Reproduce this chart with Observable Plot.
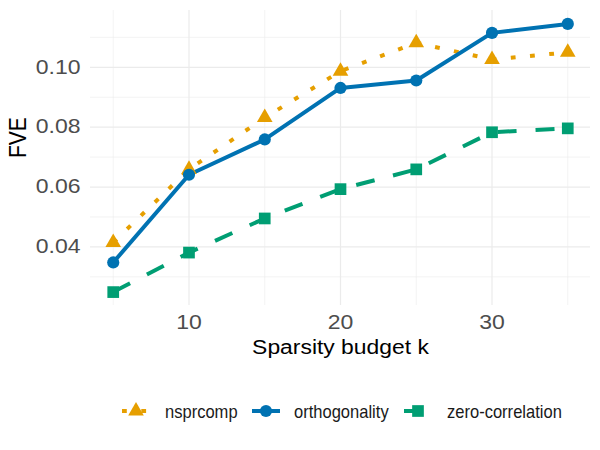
<!DOCTYPE html>
<html>
<head>
<meta charset="utf-8">
<script src="https://cdn.jsdelivr.net/npm/d3@7"></script>
<script src="https://cdn.jsdelivr.net/npm/@observablehq/plot@0.6"></script>
<style>
  html, body { margin: 0; padding: 0; background: white; }
  body { width: 600px; height: 450px; position: relative; overflow: hidden; font-family: "Liberation Sans", Arial, sans-serif; }
  #legend { position: absolute; top: 0; left: 0; width: 600px; height: 450px; pointer-events: none; }
  .key { position: absolute; display: block; }
  .lab { position: absolute; font-size: 19px; line-height: 20px; color: #1a1a1a; white-space: nowrap; transform: scaleX(0.87); transform-origin: left center; }
</style>
</head>
<body>
<div id="chart"></div>
<div id="legend"></div>
<script>
const ks = [5, 10, 15, 20, 25, 30, 35];
const nsprcomp = [0.0415, 0.0659, 0.0832, 0.0987, 0.1082, 0.1026, 0.1050];
const orthogonality = [0.0348, 0.0641, 0.0759, 0.0931, 0.0956, 0.1115, 0.1145];
const zeroCorrelation = [0.0249, 0.0381, 0.0495, 0.0593, 0.0659, 0.0783, 0.0796];

const methods = ["nsprcomp", "orthogonality", "zero-correlation"];
const colors = ["#E69F00", "#0072B2", "#009E73"];
const symbols = ["triangle", "circle", "square"];
const dashes = ["4.8,14.5", null, "19,19"];
const radii = [5.8, 6.1, 6.6];

const xMajor = [10, 20, 30];
const xMinor = [5, 15, 25, 35];
const yMajor = [0.04, 0.06, 0.08, 0.10];
const yMinor = [0.03, 0.05, 0.07, 0.09, 0.11];

const xTitle = "Sparsity budget k";
const yTitle = "FVE";

const seriesValues = [nsprcomp, orthogonality, zeroCorrelation];
const rows = [];
methods.forEach((m, i) => ks.forEach((k, j) => rows.push({k, method: m, fve: seriesValues[i][j]})));

const allVals = seriesValues.flat();
const lo = d3.min(allVals), hi = d3.max(allVals);
const pad = (hi - lo) * 0.05;
const xPad = (d3.max(ks) - d3.min(ks)) * 0.05;

const font = '"Liberation Sans", Arial, sans-serif';
const grid = "#EBEBEB";

const marks = [
  Plot.ruleX(xMinor, {stroke: grid, strokeWidth: 0.6}),
  Plot.ruleY(yMinor, {stroke: grid, strokeWidth: 0.6}),
  Plot.ruleX(xMajor, {stroke: grid, strokeWidth: 1.2}),
  Plot.ruleY(yMajor, {stroke: grid, strokeWidth: 1.2}),
  Plot.axisX({ticks: xMajor, tickSize: 0, tickPadding: 10, label: null, fill: "#4D4D4D", fontSize: 19.5}),
  Plot.axisY({ticks: yMajor, tickSize: 0, tickPadding: 10, label: null, tickFormat: d3.format(".2f"), fill: "#4D4D4D", fontSize: 19.5}),
  Plot.text([xTitle], {text: d => d, frameAnchor: "bottom", dy: 48, fill: "#000", fontSize: 21}),
  Plot.text([yTitle], {text: d => d, frameAnchor: "left", dx: -72, rotate: -90, fill: "#000", fontSize: 21})
];
methods.forEach((m, i) => {
  marks.push(Plot.line(rows.filter(d => d.method === m), {
    x: "k", y: "fve", stroke: colors[i], strokeWidth: 4,
    strokeDasharray: dashes[i], strokeLinecap: "butt", strokeLinejoin: "round"
  }));
});
methods.forEach((m, i) => {
  marks.push(Plot.dot(rows.filter(d => d.method === m), {
    x: "k", y: "fve", fill: colors[i], stroke: "none", symbol: symbols[i], r: radii[i]
  }));
});

const chart = Plot.plot({
  width: 600, height: 375,
  marginLeft: 90, marginRight: 10, marginTop: 10, marginBottom: 70,
  style: {fontFamily: font, background: "white", overflow: "visible"},
  x: {domain: [d3.min(ks) - xPad, d3.max(ks) + xPad]},
  y: {domain: [lo - pad, hi + pad]},
  marks
});
document.getElementById("chart").appendChild(chart);

// widen glyphs to match the reference's rendering
function stretch(t, sx, sy) {
  const tr = t.getAttribute("transform");
  if (tr && tr.includes("translate")) {
    t.setAttribute("transform", `${tr} scale(${sx},${sy})`);
  } else {
    const x = +(t.getAttribute("x") || 0), y = +(t.getAttribute("y") || 0);
    t.setAttribute("transform", `translate(${x},${y}) scale(${sx},${sy}) translate(${-x},${-y})`);
  }
}
chart.querySelectorAll("text").forEach(t => {
  const s = t.textContent;
  if (s === xTitle) stretch(t, 1.09, 1);
  else if (s === yTitle) stretch(t, 1, 1.13);
  else stretch(t, 1.18, 1);
});

// legend
const legend = document.getElementById("legend");
const ns = "http://www.w3.org/2000/svg";
const keyLeft = [122, 252, 403.5];
const labLeft = [165, 294, 447];
const cy = 410.5;
methods.forEach((m, i) => {
  const w = 28, h = 28;
  const svg = document.createElementNS(ns, "svg");
  svg.setAttribute("width", w); svg.setAttribute("height", h);
  svg.setAttribute("class", "key");
  svg.style.left = keyLeft[i] + "px";
  svg.style.top = (cy - h / 2) + "px";
  const line = document.createElementNS(ns, "line");
  line.setAttribute("x1", 0); line.setAttribute("x2", w);
  line.setAttribute("y1", h / 2); line.setAttribute("y2", h / 2);
  line.setAttribute("stroke", colors[i]); line.setAttribute("stroke-width", 4);
  if (dashes[i]) line.setAttribute("stroke-dasharray", dashes[i]);
  svg.appendChild(line);
  const sym = {triangle: d3.symbolTriangle, circle: d3.symbolCircle, square: d3.symbolSquare}[symbols[i]];
  const p = document.createElementNS(ns, "path");
  p.setAttribute("d", d3.symbol(sym, radii[i] * radii[i] * Math.PI)());
  p.setAttribute("transform", `translate(${w / 2},${h / 2})`);
  p.setAttribute("fill", colors[i]);
  svg.appendChild(p);
  legend.appendChild(svg);
  const t = document.createElement("div");
  t.className = "lab";
  t.textContent = m;
  t.style.left = labLeft[i] + "px";
  t.style.top = (cy - 9) + "px";
  legend.appendChild(t);
});
</script>
</body>
</html>
